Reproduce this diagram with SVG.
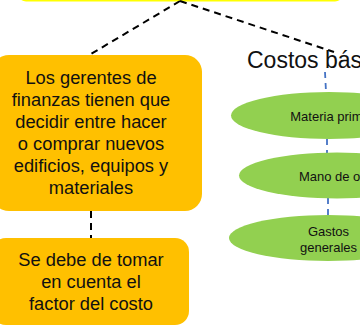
<svg xmlns="http://www.w3.org/2000/svg" width="360" height="333" viewBox="0 0 360 333">
<style>
.box{fill:#FFC000}
.ell{fill:#92D050}
.t{font-family:"Liberation Sans",Arial,sans-serif;fill:#111;text-anchor:middle}
.big{font-size:18.3px}
.sm{font-size:13px}
.dk{stroke:#000;stroke-width:2;stroke-dasharray:7,5;fill:none}
.bl{stroke:#4472C4;stroke-width:1.8;stroke-dasharray:6,5;fill:none}
</style>
<rect width="360" height="333" fill="#fff"/>
<g id="top"><rect x="18" y="-30" width="325" height="31.5" rx="8" fill="#FFFF00"/></g>
<g id="connectors">
<path class="dk" d="M180,1 L91,54"/>
<path class="dk" d="M180,1 L334,52"/>
<path class="dk" d="M91,211 L91,238"/>
<path class="bl" d="M325,72 L326,92"/>
<path class="bl" d="M327,139 L327,153"/>
<path class="bl" d="M328,198 L328,215"/>
</g>
<g id="n1">
<rect class="box" x="-8" y="55" width="210" height="156" rx="17"/>
<text class="t big" x="91" y="84">Los gerentes de</text>
<text class="t big" x="91" y="106">finanzas tienen que</text>
<text class="t big" x="91" y="128">decidir entre hacer</text>
<text class="t big" x="91" y="150">o comprar nuevos</text>
<text class="t big" x="91" y="172">edificios, equipos y</text>
<text class="t big" x="91" y="194">materiales</text>
</g>
<g id="n2">
<rect class="box" x="-8" y="238" width="197" height="87" rx="14"/>
<text class="t big" x="91" y="266">Se debe de tomar</text>
<text class="t big" x="91" y="288">en cuenta el</text>
<text class="t big" x="91" y="310">factor del costo</text>
</g>
<g id="costos">
<text x="247" y="68" style="font-family:'Liberation Sans',Arial,sans-serif;font-size:23px;fill:#111">Costos básicos</text>
</g>
<g id="e1">
<ellipse class="ell" cx="329" cy="115.5" rx="98" ry="23.5"/>
<text class="t sm" x="330" y="121">Materia prima</text>
</g>
<g id="e2">
<ellipse class="ell" cx="337" cy="175.5" rx="98" ry="23"/>
<text class="t sm" x="339" y="180.5">Mano de obra</text>
</g>
<g id="e3">
<ellipse class="ell" cx="328" cy="238" rx="99" ry="23"/>
<text class="t sm" x="328.5" y="235.5">Gastos</text>
<text class="t sm" x="328.5" y="251.5">generales</text>
</g>
</svg>
